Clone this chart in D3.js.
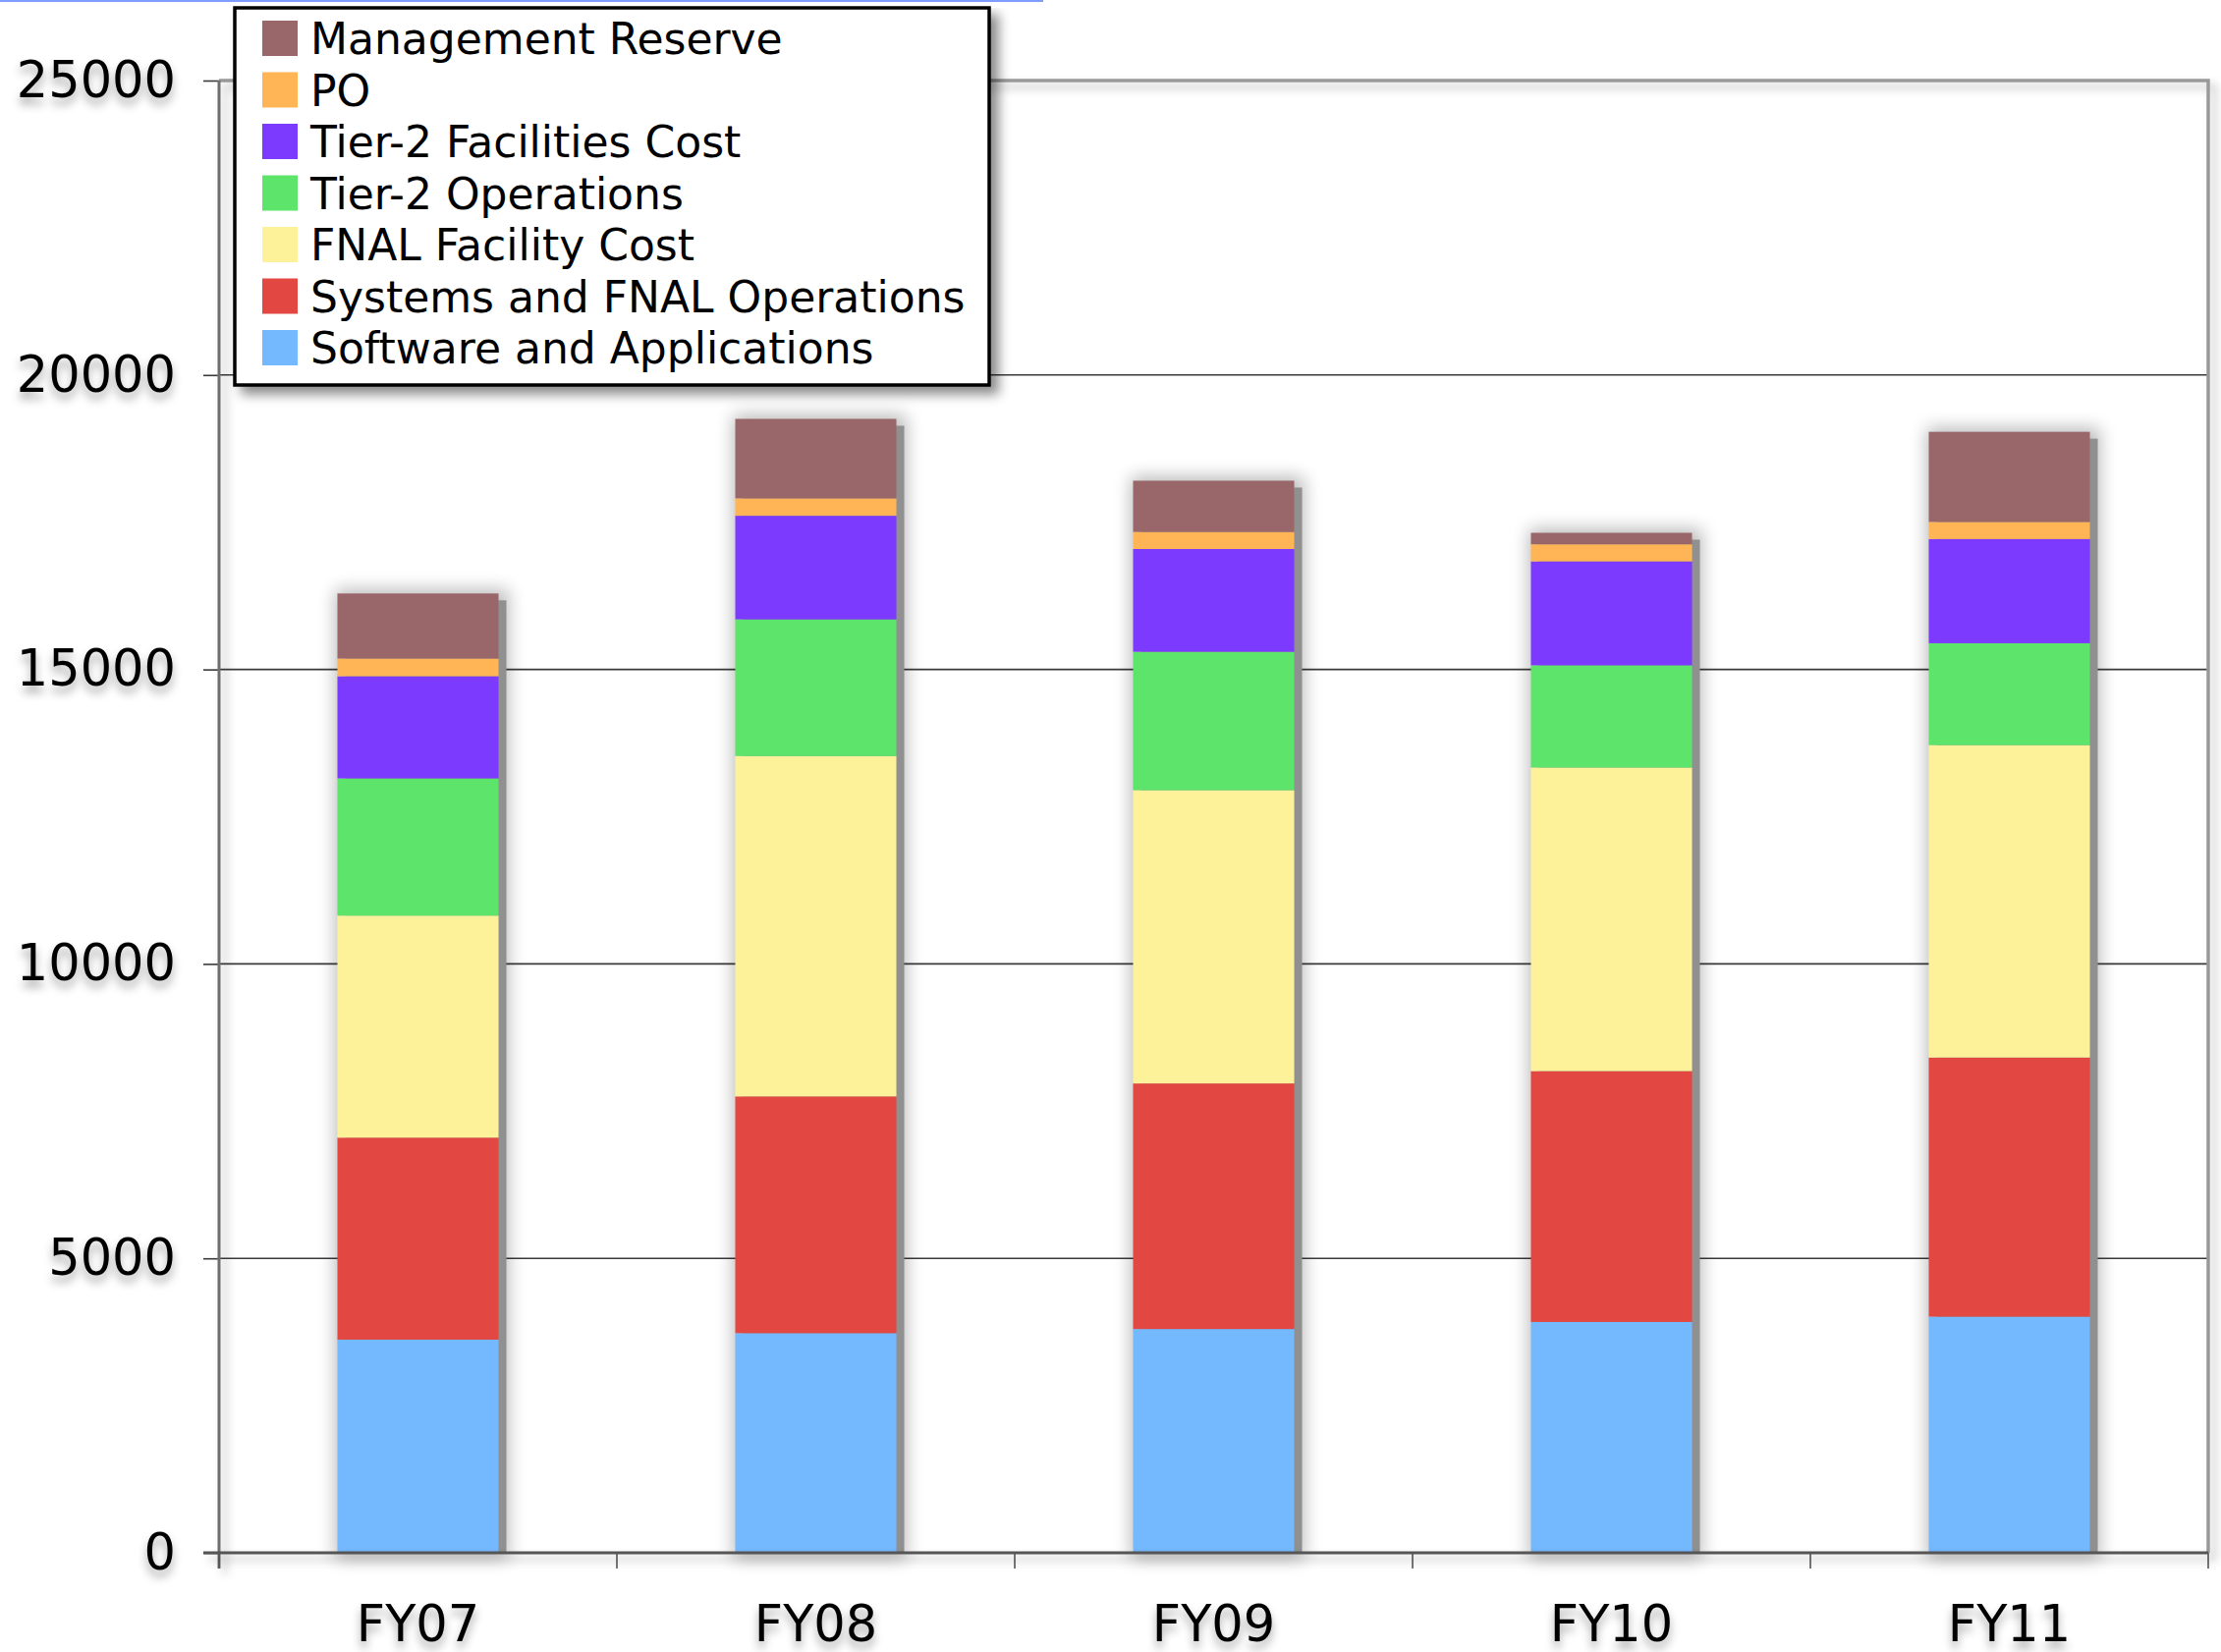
<!DOCTYPE html>
<html>
<head>
<meta charset="utf-8">
<script src="https://cdn.jsdelivr.net/npm/d3@7"></script>
<style>
  html, body { margin: 0; padding: 0; background: #ffffff; }
  svg { display: block; }
  text { font-family: "DejaVu Sans", Verdana, sans-serif; fill: #000; }
</style>
</head>
<body>
<svg id="chart" width="2261" height="1682"></svg>
<script>
// Budget by fiscal year, stacked by cost category
const years = ["FY07", "FY08", "FY09", "FY10", "FY11"];

const softwareApps   = [3620, 3730, 3800, 3920, 4010];
const systemsFnalOps = [3430, 4020, 4170, 4260, 4400];
const fnalFacility   = [3770, 5780, 4980, 5155, 5305];
const tier2Ops       = [2330, 2320, 2350, 1735, 1730];
const tier2Facility  = [1735, 1760, 1745, 1765, 1770];
const po             = [300, 295, 290, 290, 290];
const mgmtReserve    = [1105, 1350, 870, 195, 1530];

const seriesNames = [
  "Software and Applications",
  "Systems and FNAL Operations",
  "FNAL Facility Cost",
  "Tier-2 Operations",
  "Tier-2 Facilities Cost",
  "PO",
  "Management Reserve"
];
const seriesValues = [softwareApps, systemsFnalOps, fnalFacility, tier2Ops, tier2Facility, po, mgmtReserve];
const seriesColors = ["#74b8fe", "#e34742", "#fdf19a", "#5ce46b", "#7c3aff", "#ffb556", "#99676a"];

const yTicks = [0, 5000, 10000, 15000, 20000, 25000];

// Table for d3.stack
const table = years.map((yr, i) => {
  const row = { year: yr };
  seriesNames.forEach((s, k) => { row[s] = seriesValues[k][i]; });
  return row;
});
const stacked = d3.stack().keys(seriesNames)(table);

const svg = d3.select("#chart");
const W = 2261, H = 1682;
const plotLeft = 223, plotRight = 2248, plotTop = 82, plotBottom = 1581;

const x = d3.scaleBand().domain(years).range([plotLeft, plotRight])
  .paddingInner(0.595).paddingOuter(0.2975);
const y = d3.scaleLinear().domain([0, 25000]).range([plotBottom, plotTop]);

// Filters: user-space regions for straight lines (zero-size bounding boxes),
// bounding-box regions for text inside transformed tick groups
const defs = svg.append("defs");
function shadowFilter(id, blur, dx, dy, opacity, userSpace) {
  const f = defs.append("filter").attr("id", id);
  if (userSpace) {
    f.attr("filterUnits", "userSpaceOnUse")
      .attr("x", 0).attr("y", 0).attr("width", W).attr("height", H);
  } else {
    f.attr("x", "-30%").attr("y", "-40%").attr("width", "160%").attr("height", "200%");
  }
  f.append("feGaussianBlur").attr("in", "SourceAlpha").attr("stdDeviation", blur).attr("result", "b");
  f.append("feOffset").attr("in", "b").attr("dx", dx).attr("dy", dy).attr("result", "o");
  f.append("feFlood").attr("flood-color", "#000").attr("flood-opacity", opacity).attr("result", "c");
  f.append("feComposite").attr("in", "c").attr("in2", "o").attr("operator", "in").attr("result", "s");
  const m = f.append("feMerge");
  m.append("feMergeNode").attr("in", "s");
  m.append("feMergeNode").attr("in", "SourceGraphic");
}
shadowFilter("textShadow", 5, 0, 7, 0.35, false);
shadowFilter("lineShadow", 5, 6, 6, 0.28, true);
shadowFilter("boxShadow", 6, 8, 8, 0.45, true);
const blurF = defs.append("filter").attr("id", "halo")
  .attr("filterUnits", "userSpaceOnUse")
  .attr("x", 0).attr("y", 0).attr("width", W).attr("height", H);
blurF.append("feGaussianBlur").attr("stdDeviation", 9);

// Thin top highlight strip
svg.append("rect").attr("x", 0).attr("y", 0).attr("width", 1062).attr("height", 2)
  .attr("fill", "#7f9cff");

// Gridlines
const gridVals = yTicks.filter(v => v > 0 && v < 25000);
svg.append("g").selectAll("line").data(gridVals).join("line")
  .attr("x1", plotLeft).attr("x2", plotRight)
  .attr("y1", d => y(d)).attr("y2", d => y(d))
  .attr("stroke", "#3a3a3a").attr("stroke-width", 1.6);

// Plot frame: top and right borders
svg.append("path")
  .attr("d", `M${plotLeft},${y(25000)}H${plotRight}V${plotBottom}`)
  .attr("fill", "none").attr("stroke", "#999").attr("stroke-width", 3.5)
  .attr("filter", "url(#lineShadow)");

// Bars
const barG = svg.append("g");
const totals = years.map((yr, i) => d3.sum(seriesValues, s => s[i]));
// soft halo
barG.append("g").selectAll("rect").data(years).join("rect")
  .attr("x", d => x(d) - 2).attr("width", x.bandwidth() + 12)
  .attr("y", (d, i) => y(totals[i]) - 4)
  .attr("height", (d, i) => plotBottom - y(totals[i]) + 10)
  .attr("fill", "#000").attr("opacity", 0.28).attr("filter", "url(#halo)");
// solid offset shadow
barG.append("g").selectAll("rect").data(years).join("rect")
  .attr("x", d => x(d) + 8).attr("width", x.bandwidth())
  .attr("y", (d, i) => y(totals[i]) + 7)
  .attr("height", (d, i) => plotBottom - y(totals[i]) - 7)
  .attr("fill", "#909090");
// stacked segments
barG.append("g").selectAll("g").data(stacked).join("g")
  .attr("fill", (d, k) => seriesColors[k])
  .selectAll("rect").data(d => d).join("rect")
  .attr("x", d => x(d.data.year)).attr("width", x.bandwidth())
  .attr("y", d => y(d[1])).attr("height", d => y(d[0]) - y(d[1]));

// Y axis
const yAxis = d3.axisLeft(y).tickValues(yTicks).tickSize(16).tickPadding(28)
  .tickFormat(d3.format("d"));
const yg = svg.append("g").attr("transform", `translate(${plotLeft},0)`).call(yAxis);
yg.select(".domain").remove();
yg.selectAll(".tick line").attr("stroke", "#3a3a3a").attr("stroke-width", 1.6);
yg.selectAll(".tick text").attr("font-size", 51)
  .attr("font-family", "'DejaVu Sans', Verdana, sans-serif")
  .attr("filter", "url(#textShadow)");
svg.append("line").attr("x1", plotLeft).attr("x2", plotLeft).attr("y1", plotTop).attr("y2", plotBottom + 16)
  .attr("stroke", "#6e6e6e").attr("stroke-width", 3).attr("filter", "url(#lineShadow)");

// X axis: labels centered on bands, ticks at band boundaries
const xAxis = d3.axisBottom(x).tickSize(0).tickPadding(54);
const xg = svg.append("g").attr("transform", `translate(0,${plotBottom})`).call(xAxis);
xg.select(".domain").remove();
xg.selectAll(".tick text").attr("font-size", 51)
  .attr("font-family", "'DejaVu Sans', Verdana, sans-serif")
  .attr("filter", "url(#textShadow)");
const bounds = d3.range(years.length + 1).map(i => plotLeft + i * x.step());
svg.append("g").selectAll("line").data(bounds).join("line")
  .attr("x1", d => d).attr("x2", d => d).attr("y1", plotBottom).attr("y2", plotBottom + 16)
  .attr("stroke", "#555").attr("stroke-width", 1.6);
svg.append("line").attr("x1", plotLeft - 16).attr("x2", plotRight).attr("y1", plotBottom).attr("y2", plotBottom)
  .attr("stroke", "#555").attr("stroke-width", 3).attr("filter", "url(#lineShadow)");

// Legend
const legend = svg.append("g");
legend.append("rect").attr("x", 239).attr("y", 8).attr("width", 768).attr("height", 384)
  .attr("fill", "#fff").attr("stroke", "#000").attr("stroke-width", 3.5)
  .attr("filter", "url(#boxShadow)");
const legendOrder = d3.range(seriesNames.length).reverse();
const ly = d3.scalePoint().domain(legendOrder).range([21, 336]);
const items = legend.selectAll("g.item").data(legendOrder).join("g").attr("class", "item")
  .attr("transform", k => `translate(267,${ly(k)})`);
items.append("rect").attr("width", 36).attr("height", 36).attr("fill", k => seriesColors[k]);
items.append("text").attr("x", 49).attr("y", 34).attr("font-size", 44)
  .text(k => seriesNames[k]);
</script>
</body>
</html>
